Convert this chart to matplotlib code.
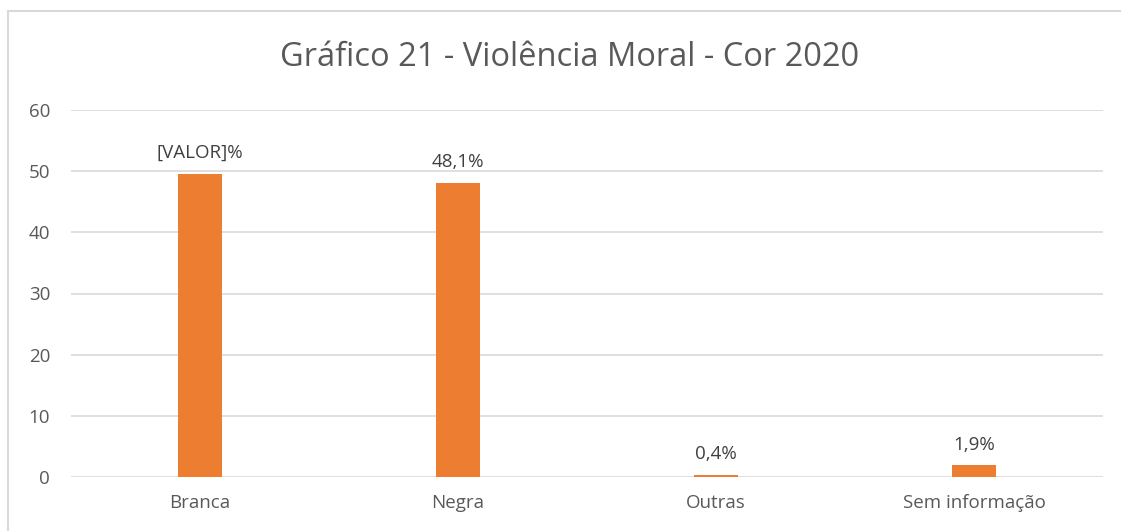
import matplotlib
matplotlib.use("Agg")
import matplotlib.pyplot as plt
from matplotlib.patches import Rectangle

categorias = ["Branca", "Negra", "Outras", "Sem informação"]
valores = [49.6, 48.1, 0.4, 1.9]
rotulos = ["[VALOR]%", "48,1%", "0,4%", "1,9%"]
yticks = [0, 10, 20, 30, 40, 50, 60]

plt.rcParams["font.family"] = ["Open Sans", "DejaVu Sans"]

fig = plt.figure(figsize=(11.21, 5.31), dpi=100)
fig.patch.set_facecolor("white")

# moldura do gráfico (cortada à direita e embaixo)
fig.patches.append(Rectangle((8 / 1121, -0.05), 1.2, 1 - 11 / 531 + 0.05,
                             transform=fig.transFigure, fill=False,
                             edgecolor="#d9d9d9", linewidth=1.5))

ax = fig.add_axes([71 / 1121, 1 - 477 / 531, 1032 / 1121, 367 / 531])
x = range(len(categorias))
barras = ax.bar(x, valores, width=0.17, color="#ed7d31", zorder=3)

for b, txt in zip(barras, rotulos):
    ax.annotate(txt, (b.get_x() + b.get_width() / 2, b.get_height()),
                xytext=(0, 8.5), textcoords="offset points",
                ha="center", va="bottom", fontsize=13.5, color="#404040")

ax.set_xlim(-0.5, len(categorias) - 0.5)
ax.set_ylim(0, 60)
ax.set_yticks(yticks)
ax.set_xticks(list(x))
ax.set_xticklabels(categorias)
ax.grid(axis="y", color="#d9d9d9", linewidth=1.2, zorder=0)
ax.tick_params(axis="both", length=0, labelsize=13.5, labelcolor="#595959")
ax.tick_params(axis="y", pad=15)
ax.tick_params(axis="x", pad=12)
for s in ax.spines.values():
    s.set_visible(False)

fig.text(570 / 1121, 1 - 57 / 531, "Gráfico 21 - Violência Moral - Cor 2020",
         ha="center", va="center", fontsize=23.5, color="#595959")

fig.savefig("out.png", dpi=100, facecolor="white")
